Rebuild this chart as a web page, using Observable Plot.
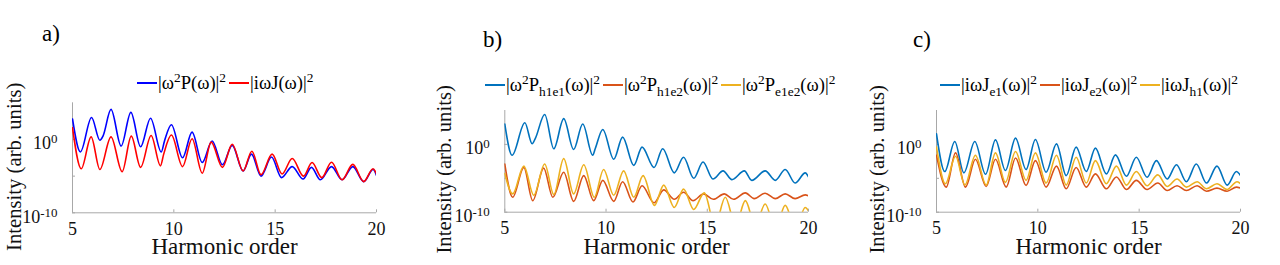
<!DOCTYPE html>
<html>
<head>
<meta charset="utf-8">
<script src="https://cdn.jsdelivr.net/npm/d3@7"></script>
<script src="https://cdn.jsdelivr.net/npm/@observablehq/plot@0.6"></script>
<style>
  html, body { margin: 0; padding: 0; background: #fff; }
  #root { position: relative; width: 1280px; height: 265px; overflow: hidden;
          font-family: 'Liberation Serif', serif; color: #000; }
  .panel { position: absolute; top: 0; }
  .panel text, .panel tspan { font-family: 'Liberation Serif', serif !important; }
  .title { position: absolute; font-size: 23px; line-height: 1; font-family: 'Liberation Serif', serif; }
  .legend { position: absolute; display: flex; align-items: center; font-size: 18.6px;
            white-space: nowrap; line-height: 1; font-family: 'Liberation Serif', serif; }
  .item { display: flex; align-items: center; margin-right: 3px; }
  .sw { display: inline-block; width: 20px; height: 2px; margin-right: 1px; }
  sup { font-size: 0.72em; vertical-align: 0.55em; line-height: 0; }
  sub { font-size: 0.72em; vertical-align: -0.4em; line-height: 0; }
</style>
</head>
<body>
<div id="root"></div>
<script>
// ---------------- data ----------------
const xTicks = [5, 10, 15, 20];
const yTickMarks = [1e-10, 1e-5, 1e0];
const yTickLabels = [1e-10, 1e0];
const xDomain = [5, 20];
const yDomain = [1e-10, 1e5];
const panelTitles = ["a)", "b)", "c)"];
const xLabel = "Harmonic order";
const yLabel = "Intensity (arb. units)";

// each point: [harmonic order, log10(intensity)]
const aP = [[5,2.8],[5.39,-1.7],[5.94,3.0],[6.35,-0.1],[6.51,0.5],[6.9,4.1],[7.4,-0.9],[7.88,3.7],[8.36,-1.0],[8.85,2.9],[9.38,-1.7],[9.54,-0.2],[9.88,2.0],[10.43,-2.5],[10.9,1.0],[11.4,-3.15],[11.89,-0.2],[12.4,-3.45],[12.88,-0.8],[13.42,-4.3],[13.83,-2.0],[14.3,-5.0],[14.82,-2.4],[15.31,-5.2],[15.84,-3.7],[16.38,-5.4],[16.79,-3.8],[17.23,-5.5],[17.78,-3.7],[18.3,-5.5],[18.83,-3.7],[19.37,-5.75],[19.83,-4.1],[20,-4.9]];
const aJ = [[5,1.6],[5.43,-4.0],[5.92,0.36],[6.35,-4.1],[6.9,0.36],[7.45,-4.4],[7.9,0.45],[8.36,-3.8],[8.88,0.54],[9.34,-3.6],[9.5,-2.0],[9.88,0.6],[10.43,-3.7],[10.9,0.1],[11.4,-4.6],[11.84,-0.36],[12.4,-3.8],[12.88,-0.65],[13.42,-4.3],[13.85,-1.6],[14.3,-4.8],[14.85,-2.0],[15.34,-4.7],[15.84,-2.6],[16.4,-5.0],[16.82,-3.15],[17.3,-5.2],[17.78,-3.1],[18.3,-5.5],[18.83,-3.4],[19.37,-5.75],[19.83,-4.0],[20,-4.7]];

const bH1E1 = [[5,3.0],[5.36,-1.6],[5.99,3.2],[6.35,0.1],[6.51,0.9],[6.97,4.4],[7.42,-0.65],[7.91,3.8],[8.4,-0.75],[8.85,3.0],[9.34,-1.6],[9.47,-0.6],[9.84,2.2],[10.38,-2.2],[10.82,1.07],[11.37,-3.1],[11.78,-0.4],[12.37,-3.4],[12.8,-0.65],[13.37,-4.2],[13.83,-1.9],[14.33,-5.0],[14.79,-2.6],[15.28,-5.1],[15.78,-3.9],[16.22,-5.2],[16.83,-3.9],[17.2,-5.3],[17.86,-3.9],[18.36,-5.3],[18.85,-3.7],[19.34,-5.7],[19.84,-4.2],[20,-4.8]];
const bH1E2 = [[5,-2.9],[5.39,-7.8],[5.94,-3.4],[6.38,-8.3],[6.92,-3.5],[7.37,-7.8],[7.91,-4.1],[8.4,-8.4],[8.9,-4.6],[9.39,-8.3],[9.84,-5.3],[10.38,-8.4],[10.82,-5.5],[11.33,-8.5],[11.78,-6.1],[12.37,-8.6],[12.85,-6.7],[13.37,-8.1],[13.83,-7.05],[14.3,-8.3],[14.82,-7.3],[15.3,-8.1],[15.84,-7.3],[16.3,-8.1],[16.88,-7.15],[17.32,-8.0],[17.86,-7.2],[18.36,-8.0],[18.85,-7.3],[19.34,-8.0],[19.84,-7.45],[20,-7.6]];
const bE1E2 = [[5,-4.3],[5.39,-7.3],[5.94,-3.2],[6.43,-7.5],[6.97,-2.9],[7.42,-7.4],[7.91,-2.1],[8.4,-7.3],[8.9,-3.0],[9.42,-7.8],[9.88,-3.7],[10.38,-7.5],[10.87,-3.9],[11.37,-7.8],[11.83,-4.6],[12.39,-9.0],[12.85,-6.0],[13.37,-9.3],[13.83,-6.6],[14.33,-9.6],[14.85,-7.15],[15.38,-12],[15.89,-7.8],[16.4,-12],[16.88,-8.3],[17.37,-12],[17.86,-8.8],[18.37,-12.5],[18.85,-9.0],[19.36,-12.5],[19.84,-9.3],[20,-9.8]];

const cE1 = [[5,1.56],[5.41,-4.0],[5.9,0.43],[6.35,-4.2],[6.89,0.43],[7.42,-4.4],[7.91,0.67],[8.4,-3.85],[8.9,0.92],[9.42,-3.7],[9.88,0.72],[10.41,-4.1],[10.92,0.08],[11.4,-4.6],[11.89,-0.4],[12.39,-4.0],[12.84,-0.55],[13.38,-4.35],[13.83,-1.55],[14.37,-4.7],[14.86,-1.9],[15.39,-4.85],[15.85,-2.4],[16.38,-5.1],[16.84,-3.0],[17.33,-5.5],[17.82,-2.9],[18.32,-5.7],[18.84,-3.2],[19.34,-6.0],[19.8,-4.0],[20,-4.6]];
const cE2 = [[5,-1.6],[5.48,-6.3],[5.94,-1.25],[6.43,-6.3],[6.92,-2.2],[7.45,-6.2],[7.91,-2.2],[8.44,-6.3],[8.9,-2.0],[9.42,-6.05],[9.88,-2.4],[10.41,-6.3],[10.92,-3.2],[11.4,-6.55],[11.89,-3.4],[12.39,-6.3],[12.84,-4.35],[13.38,-6.55],[13.88,-4.8],[14.37,-6.65],[14.86,-5.3],[15.39,-6.65],[15.92,-5.7],[16.38,-6.8],[16.87,-6.1],[17.33,-6.8],[17.86,-6.1],[18.32,-6.9],[18.84,-6.45],[19.34,-6.9],[19.8,-6.3],[20,-6.45]];
const cH1 = [[5,-0.4],[5.44,-5.8],[5.94,-1.75],[6.4,-6.0],[6.92,-1.6],[7.45,-6.0],[7.91,-1.25],[8.4,-5.6],[8.9,-1.05],[9.42,-5.3],[9.88,-1.25],[10.41,-5.7],[10.92,-1.6],[11.4,-6.0],[11.89,-1.9],[12.39,-5.7],[12.84,-2.4],[13.38,-5.8],[13.88,-3.2],[14.37,-6.0],[14.86,-4.0],[15.39,-6.1],[15.92,-4.5],[16.38,-6.2],[16.87,-5.1],[17.33,-6.3],[17.86,-5.5],[18.32,-6.55],[18.84,-5.8],[19.34,-6.65],[19.83,-5.5],[20,-5.8]];

const colorsA = ["#0000ff", "#ff0000"];
const colorsBC = ["#0072bd", "#d95319", "#edb120"];

const legendA = ["|ω<sup>2</sup>P(ω)|<sup>2</sup>", "|iωJ(ω)|<sup>2</sup>"];
const legendB = ["|ω<sup>2</sup>P<sub>h1e1</sub>(ω)|<sup>2</sup>", "|ω<sup>2</sup>P<sub>h1e2</sub>(ω)|<sup>2</sup>", "|ω<sup>2</sup>P<sub>e1e2</sub>(ω)|<sup>2</sup>"];
const legendC = ["|iωJ<sub>e1</sub>(ω)|<sup>2</sup>", "|iωJ<sub>e2</sub>(ω)|<sup>2</sup>", "|iωJ<sub>h1</sub>(ω)|<sup>2</sup>"];

// ---------------- layout ----------------
const root = document.getElementById("root");
const axisColor = "#a8a8a8";
const W = 416;
const FONT = "Liberation Serif";

const panels = [
  {left: 0,   ml: 72,   mt: 102.3, mb: 52.7, series: [aP, aJ], colors: colorsA, legend: legendA,
   legendPos: [137, 83], titlePos: [42, 40], ylabDx: -58, ylabDy: 9},
  {left: 432, ml: 72.3, mt: 110,   mb: 53.3, series: [bH1E1, bH1E2, bE1E2], colors: colorsBC, legend: legendB,
   legendPos: [485, 85], titlePos: [483, 46], ylabDx: -60, ylabDy: 8},
  {left: 864, ml: 72,   mt: 110,   mb: 53.3, series: [cE1, cE2, cH1], colors: colorsBC, legend: legendC,
   legendPos: [940, 85], titlePos: [913, 46], ylabDx: -59, ylabDy: 8}
];

const H = 265;
const mr = 40;
const ns = "http://www.w3.org/2000/svg";

panels.forEach((p, idx) => {
  const frameH = H - p.mt - p.mb;
  const frameW = W - p.ml - mr;
  const xLabDy = 261 - (H - p.mb) - 0.32 * 23;
  const marks = [
    Plot.ruleX([xDomain[0]], {stroke: axisColor, strokeWidth: 1}),
    Plot.ruleY([yDomain[0]], {stroke: axisColor, strokeWidth: 1}),
    Plot.tickX(xTicks, {x: d => d, stroke: axisColor, insetTop: frameH - 3}),
    Plot.tickY(yTickMarks, {y: d => d, stroke: axisColor, insetRight: frameW - 3}),
    ...p.series.map((s, i) => Plot.line(s, {
      x: d => d[0], y: d => Math.pow(10, d[1]),
      stroke: p.colors[i], strokeWidth: 1.6, curve: "monotone-x", clip: true
    })),
    Plot.axisX(xTicks, {tickSize: 0, tickPadding: 9, fontSize: 18, fill: "#111", tickFormat: d => String(d)}),
    Plot.axisY(yTickLabels, {tickSize: 0, tickPadding: 15, fontSize: 18, fill: "#111", dy: 4,
      tickFormat: d => "10^" + Math.round(Math.log10(d))}),
    Plot.text([xLabel], {frameAnchor: "bottom", dy: xLabDy, fontSize: 23, fill: "#111"}),
    Plot.text([yLabel], {frameAnchor: "left", textAnchor: "middle", rotate: -90, dx: p.ylabDx, dy: p.ylabDy,
      fontSize: 20.7, fill: "#111"})
  ];
  const chart = Plot.plot({
    width: W, height: H,
    marginLeft: p.ml, marginRight: mr, marginTop: p.mt, marginBottom: p.mb,
    x: {type: "linear", domain: xDomain, label: null, axis: null},
    y: {type: "log", domain: yDomain, label: null, axis: null},
    style: {"font-family": FONT, "font-size": "18px", "background": "transparent", "overflow": "visible"},
    marks
  });
  chart.classList.add("panel");
  chart.style.left = p.left + "px";
  chart.style.fontFamily = FONT;
  chart.style.overflow = "visible";
  chart.style.background = "transparent";
  chart.setAttribute("font-family", FONT);
  // superscript exponents on y tick labels
  chart.querySelectorAll("text").forEach(t => {
    t.style.fontFamily = FONT;
    const s = t.textContent;
    if (/^10\^-?\d+$/.test(s)) {
      const [b, e] = s.split("^");
      t.textContent = "";
      const t1 = document.createElementNS(ns, "tspan"); t1.textContent = b;
      const t2 = document.createElementNS(ns, "tspan"); t2.textContent = e;
      t2.setAttribute("dy", "-0.45em"); t2.setAttribute("font-size", "0.72em");
      t.append(t1, t2);
    }
  });
  root.appendChild(chart);

  // title
  const ttl = document.createElement("div");
  ttl.className = "title";
  ttl.textContent = panelTitles[idx];
  ttl.style.left = p.titlePos[0] + "px";
  ttl.style.top = (p.titlePos[1] - 18) + "px";
  root.appendChild(ttl);

  // legend
  const lg = document.createElement("div");
  lg.className = "legend";
  lg.style.left = p.legendPos[0] + "px";
  lg.style.top = (p.legendPos[1] - 9) + "px";
  p.legend.forEach((html, i) => {
    const it = document.createElement("span");
    it.className = "item";
    it.innerHTML = `<span class="sw" style="background:${p.colors[i]}"></span><span>${html}</span>`;
    lg.appendChild(it);
  });
  root.appendChild(lg);
});
</script>
</body>
</html>
